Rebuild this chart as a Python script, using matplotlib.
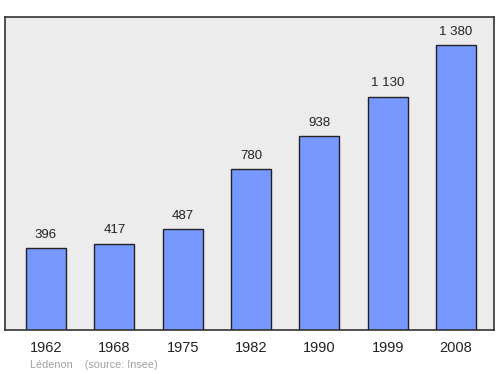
import matplotlib.pyplot as plt

plt.rcParams['font.family'] = ['Liberation Sans', 'DejaVu Sans']

years = ['1962', '1968', '1975', '1982', '1990', '1999', '2008']
population = [396, 417, 487, 780, 938, 1130, 1380]
value_labels = ['396', '417', '487', '780', '938', '1 130', '1 380']

fig = plt.figure(figsize=(5, 3.74), dpi=100)
ax = fig.add_axes([0.01, 0.1176, 0.978, 0.837])
ax.set_facecolor('#ececec')

pos = list(range(len(years)))
ax.bar(pos, population, width=0.585, color='#7799ff', edgecolor='#222222', linewidth=1, zorder=2)

# value above each bar
for p, v, lab in zip(pos, population, value_labels):
    ax.text(p, v + 36, lab, ha='center', va='bottom', fontsize=9.5, color='#222222')

ax.set_xlim(-0.6, 6.556)
ax.set_ylim(0, 1516)
ax.set_xticks(pos)
ax.set_xticklabels(years, fontsize=10.5, color='#222222')
ax.set_yticks([])
ax.tick_params(axis='x', length=0, pad=8)
for s in ax.spines.values():
    s.set_color('#333333')
    s.set_linewidth(1.2)

fig.text(0.06, 0.024, 'Lédenon    (source: Insee)', fontsize=7.8, color='#a0a0a0', va='center')

fig.savefig('out.png', dpi=100)
